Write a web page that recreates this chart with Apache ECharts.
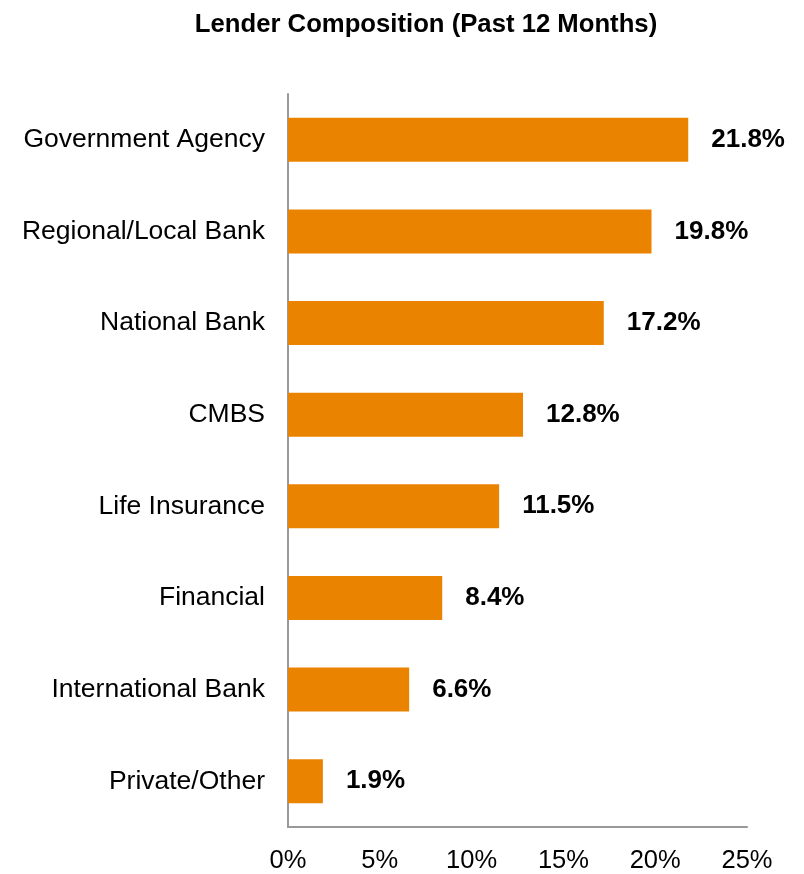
<!DOCTYPE html>
<html>
<head>
<meta charset="utf-8">
<style>
  html, body { margin: 0; padding: 0; background: #ffffff; }
  #chart { width: 804px; height: 874px; }
</style>
<script src="https://cdn.jsdelivr.net/npm/echarts@6/dist/echarts.min.js"></script>
</head>
<body>
<div id="chart"></div>
<script>
// Lender types, listed top to bottom
const categories = [
  'Government Agency',
  'Regional/Local Bank',
  'National Bank',
  'CMBS',
  'Life Insurance',
  'Financial',
  'International Bank',
  'Private/Other'
];
// Share of loans by lender type (%)
const shares = [21.8, 19.8, 17.2, 12.8, 11.5, 8.4, 6.6, 1.9];
const xTicks = [0, 5, 10, 15, 20, 25];

const FONT = '"Liberation Sans", Arial, sans-serif';
const chart = echarts.init(document.getElementById('chart'));

chart.setOption({
  backgroundColor: '#ffffff',
  animation: false,
  title: {
    text: 'Lender Composition (Past 12 Months)',
    left: 421,
    textAlign: 'center',
    top: 7,
    textStyle: { fontFamily: FONT, fontSize: 25.7, fontWeight: 'bold', color: '#000000' }
  },
  grid: { left: 288, right: 57, top: 94, bottom: 46, containLabel: false },
  xAxis: {
    type: 'value',
    min: xTicks[0],
    max: xTicks[xTicks.length - 1],
    interval: 5,
    axisLine: { show: true, lineStyle: { color: '#999999', width: 2 } },
    axisTick: { show: false },
    splitLine: { show: false },
    axisLabel: {
      margin: 21,
      fontFamily: FONT,
      fontSize: 25.5,
      color: '#000000',
      formatter: v => v + '%'
    }
  },
  yAxis: {
    type: 'category',
    data: categories,
    inverse: true,
    axisLine: { show: true, lineStyle: { color: '#999999', width: 2 } },
    axisTick: { show: false },
    axisLabel: {
      margin: 23,
      fontFamily: FONT,
      fontSize: 26.5,
      color: '#000000'
    }
  },
  series: [{
    type: 'bar',
    data: shares,
    barWidth: 44,
    itemStyle: { color: '#EA8400' },
    label: {
      show: true,
      position: 'right',
      distance: 23,
      fontFamily: FONT,
      fontSize: 26,
      fontWeight: 'bold',
      color: '#000000',
      formatter: p => p.value.toFixed(1) + '%'
    }
  }]
});
</script>
</body>
</html>
